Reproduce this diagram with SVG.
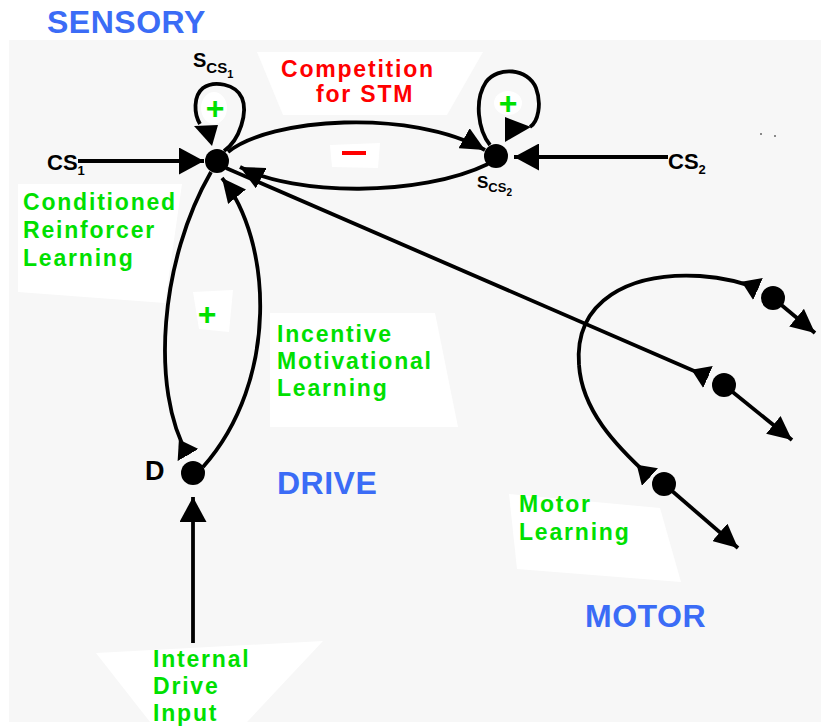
<svg xmlns="http://www.w3.org/2000/svg" width="821" height="728" viewBox="0 0 821 728">
<style>
.lab{font-family:"Liberation Sans",Arial,sans-serif;font-weight:bold;font-size:23px;fill:#00e000;letter-spacing:1.8px}
.red{font-family:"Liberation Sans",Arial,sans-serif;font-weight:bold;font-size:23px;fill:#ff0000;letter-spacing:1.8px}
.big{font-family:"Liberation Sans",Arial,sans-serif;font-weight:bold;font-size:32px;fill:#3b6cf6;letter-spacing:0.5px}
.blk{font-family:"Liberation Sans",Arial,sans-serif;font-weight:bold;fill:#000}
.plus{font-family:"Liberation Sans",Arial,sans-serif;font-weight:bold;font-size:32px;fill:#00e000;text-anchor:middle}
.ln{fill:none;stroke:#000;stroke-width:3.8}
.wb{fill:#fff}
.nd{fill:#000}
</style>
<defs>
<marker id="arrL" markerUnits="userSpaceOnUse" viewBox="0 0 25 27" markerWidth="25" markerHeight="27" refX="25" refY="13.5" orient="auto"><path d="M0,0 L25,13.5 L0,27 z"/></marker>
<marker id="arr" markerUnits="userSpaceOnUse" viewBox="0 0 24 23" markerWidth="24" markerHeight="23" refX="24" refY="11.5" orient="auto"><path d="M0,0 L24,11.5 L0,23 z"/></marker>
<marker id="knob" markerUnits="userSpaceOnUse" viewBox="0 0 18 24" markerWidth="18" markerHeight="24" refX="18" refY="12" orient="auto"><path d="M0,12 L18,0 L18,24 z"/></marker>
</defs>

<!-- background panel -->
<rect x="0" y="0" width="821" height="728" fill="#fff"/>
<rect x="9" y="40" width="812" height="682" fill="#f7f7f7"/>

<!-- white label backgrounds -->
<polygon class="wb" points="257,52 483,52 447,115 283,115"/>
<polygon class="wb" points="18,184 182,184 165,303 18,292"/>
<polygon class="wb" points="193,292 233,290 229,332 199,329"/>
<polygon class="wb" points="270,313 435,313 458,427 270,427"/>
<polygon class="wb" points="509,494 660,508 681,582 517,569"/>
<polygon class="wb" points="96,653 323,641 247,722 150,722"/>
<polygon class="wb" points="330,145 380,143 378,168 332,167"/>
<ellipse class="wb" cx="214" cy="108" rx="13" ry="16"/>
<ellipse class="wb" cx="508" cy="103" rx="14" ry="12"/>

<!-- region titles -->
<text class="big" x="47" y="33">SENSORY</text>
<text class="big" x="277" y="494">DRIVE</text>
<text class="big" x="585" y="627">MOTOR</text>

<!-- learning labels -->
<text class="red" x="281" y="77">Competition</text>
<text class="red" x="316" y="102">for STM</text>
<text class="lab" x="23" y="210">Conditioned</text>
<text class="lab" x="23" y="238">Reinforcer</text>
<text class="lab" x="23" y="266">Learning</text>
<text class="lab" x="277" y="342">Incentive</text>
<text class="lab" x="277" y="369">Motivational</text>
<text class="lab" x="277" y="396">Learning</text>
<text class="lab" x="519" y="512">Motor</text>
<text class="lab" x="519" y="540">Learning</text>
<text class="lab" x="153" y="667">Internal</text>
<text class="lab" x="153" y="694">Drive</text>
<text class="lab" x="153" y="721">Input</text>

<!-- signs -->
<text class="plus" x="215" y="119">+</text>
<text class="plus" x="508" y="114">+</text>
<text class="plus" x="207" y="325">+</text>
<rect x="342" y="151" width="24" height="4" fill="#ff0000"/>

<!-- connectors -->
<g id="connectors">
<path class="ln" d="M78,161 L204,161" marker-end="url(#arrL)"/>
<path class="ln" d="M668,157 L514,157" marker-end="url(#arrL)"/>
<path class="ln" d="M193,643 L193,497" marker-end="url(#arrL)"/>
<path class="ln" d="M224,151 C240,140 248,112 242,98 C236,84 214,80 203,88 C193,96 194,114 200,124"/>
<polygon points="194,126 218,125 212,146"/>
<path class="ln" d="M490,145 C478,130 474,100 486,82 C498,66 528,68 536,88 C542,104 538,122 530,127"/>
<polygon points="531,127 505,117 505,142"/>
<path class="ln" d="M228,152 C270,118 410,108 485,150" marker-end="url(#arr)"/>
<path class="ln" d="M488,164 C420,197 295,196 240,167" marker-end="url(#arr)"/>
<path class="ln" d="M226,168 L708,377" marker-end="url(#knob)"/>
<path class="ln" d="M211,172 C160,260 150,390 188,455" marker-end="url(#knob)"/>
<path class="ln" d="M203,467 C280,380 272,240 222,178" marker-end="url(#arr)"/>
<path class="ln" d="M579,365 C574,300 630,272 700,276 C725,278 742,282 758,289" marker-end="url(#knob)"/>
<path class="ln" d="M579,365 C582,410 615,445 650,477" marker-end="url(#knob)"/>
<path class="ln" d="M773,298 L815,333" marker-end="url(#arr)"/>
<path class="ln" d="M724,385 L792,440" marker-end="url(#arr)"/>
<path class="ln" d="M664,484 L738,548" marker-end="url(#arr)"/>
</g>

<!-- nodes -->
<g id="node-scs1">
<circle class="nd" cx="217" cy="161" r="12"/>
<text class="blk" x="193" y="67" font-size="20">S<tspan font-size="15" dy="6">CS</tspan><tspan font-size="11" dy="5">1</tspan></text>
</g>
<g id="node-scs2">
<circle class="nd" cx="496" cy="156" r="12"/>
<text class="blk" x="477" y="188" font-size="17">S<tspan font-size="13" dy="4">CS</tspan><tspan font-size="10" dy="4">2</tspan></text>
</g>
<g id="node-cs1">
<text class="blk" x="47" y="170" font-size="22">CS<tspan font-size="13" dy="5">1</tspan></text>
</g>
<g id="node-cs2">
<text class="blk" x="668" y="169" font-size="22">CS<tspan font-size="13" dy="5">2</tspan></text>
</g>
<g id="node-d">
<circle class="nd" cx="193" cy="473" r="12"/>
<text class="blk" x="145" y="480" font-size="27">D</text>
</g>
<g id="node-m1"><circle class="nd" cx="773" cy="298" r="12"/></g>
<g id="node-m2"><circle class="nd" cx="724" cy="385" r="12"/></g>
<g id="node-m3"><circle class="nd" cx="664" cy="484" r="12"/></g>

<circle cx="761" cy="134" r="1" fill="#666"/>
<circle cx="775" cy="136" r="1" fill="#666"/>
</svg>
